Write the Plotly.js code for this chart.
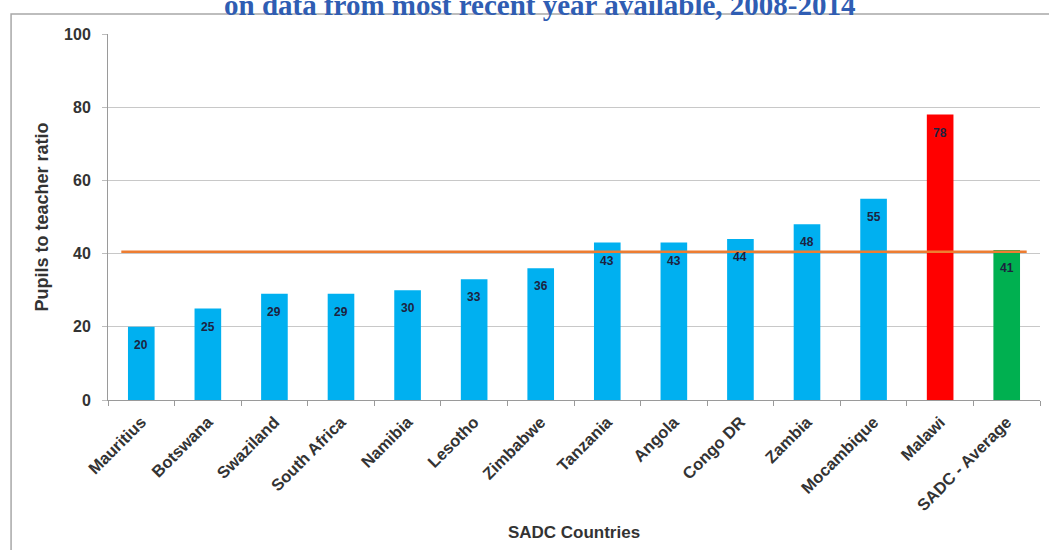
<!DOCTYPE html>
<html>
<head>
<meta charset="utf-8">
<script src="https://cdn.plot.ly/plotly-3.0.1.min.js"></script>
<style>
  html, body { margin: 0; padding: 0; background: #ffffff; }
  #chart { width: 1049px; height: 550px; }
</style>
</head>
<body>
<div id="chart"></div>
<script>
// ---- data ----
const countries = ["Mauritius", "Botswana", "Swaziland", "South Africa", "Namibia", "Lesotho",
  "Zimbabwe", "Tanzania", "Angola", "Congo DR", "Zambia", "Mocambique", "Malawi", "SADC - Average"];
const ratios = [20, 25, 29, 29, 30, 33, 36, 43, 43, 44, 48, 55, 78, 41];
const barColors = ["#00B0F0", "#00B0F0", "#00B0F0", "#00B0F0", "#00B0F0", "#00B0F0", "#00B0F0",
  "#00B0F0", "#00B0F0", "#00B0F0", "#00B0F0", "#00B0F0", "#FF0000", "#00B050"];
const averageLine = 40.5;
const yTicks = [0, 20, 40, 60, 80, 100];
const titleText = "on data from most recent year available, 2008-2014";
const xTitle = "SADC Countries";
const yTitle = "Pupils to teacher ratio";

const sans = "Liberation Sans, Arial, sans-serif";

const bars = {
  type: "bar",
  x: countries,
  y: ratios,
  marker: { color: barColors, line: { width: 0 } },
  hoverinfo: "x+y",
  showlegend: false
};

const labels = countries.map((c, i) => ({
  x: c, y: ratios[i], xref: "x", yref: "y",
  text: String(ratios[i]), showarrow: false, yshift: -18,
  font: { family: sans, size: 12, color: "#1d2340", weight: "bold" }
}));

labels.push({
  xref: "paper", yref: "paper", x: 0.4635, y: 1.078, xanchor: "center", yanchor: "middle",
  text: "<b>" + titleText + "</b>", showarrow: false,
  font: { family: "Liberation Serif, Times New Roman, serif", size: 29, color: "#2F5DB3" }
});

const layout = {
  width: 1049, height: 550,
  margin: { l: 108, r: 9, t: 34, b: 150 },
  paper_bgcolor: "#ffffff", plot_bgcolor: "#ffffff",
  bargap: 0.6,
  font: { family: sans, color: "#333333" },
  xaxis: {
    type: "category",
    showline: true, linecolor: "#9a9a9a", linewidth: 1,
    ticks: "outside", tickson: "boundaries", ticklen: 5, tickcolor: "#9a9a9a",
    tickangle: -45,
    ticklabelstandoff: 5,
    tickfont: { size: 16.5, color: "#333333", weight: "bold" },
    showgrid: false,
    title: { text: "<b>" + xTitle + "</b>", font: { size: 17, color: "#333333" }, standoff: 12 },
    automargin: false
  },
  yaxis: {
    range: [0, 100],
    tickvals: yTicks,
    showline: true, linecolor: "#9a9a9a", linewidth: 1,
    ticks: "outside", ticklen: 5, tickcolor: "#bdbdbd",
    ticklabelstandoff: 8,
    tickfont: { size: 16, color: "#333333", weight: "bold" },
    showgrid: true, gridcolor: "#c8c8c8", gridwidth: 1,
    zeroline: false,
    title: { text: "<b>" + yTitle + "</b>", font: { size: 18, color: "#333333" }, standoff: 10 },
    automargin: false
  },
  shapes: [
    {
      type: "line", xref: "x", yref: "y",
      x0: -0.3, x1: countries.length - 0.7, y0: averageLine, y1: averageLine,
      line: { color: "#ED7D31", width: 2.5 }
    },
    {
      type: "rect", xref: "paper", yref: "paper",
      x0: -0.104, x1: 1.05, y0: -0.6, y1: 1.0546,
      line: { color: "#a8a8a8", width: 1.5 }, fillcolor: "rgba(0,0,0,0)", layer: "below"
    }
  ],
  annotations: labels
};

Plotly.newPlot("chart", [bars], layout, { displayModeBar: false, staticPlot: true });
</script>
</body>
</html>
